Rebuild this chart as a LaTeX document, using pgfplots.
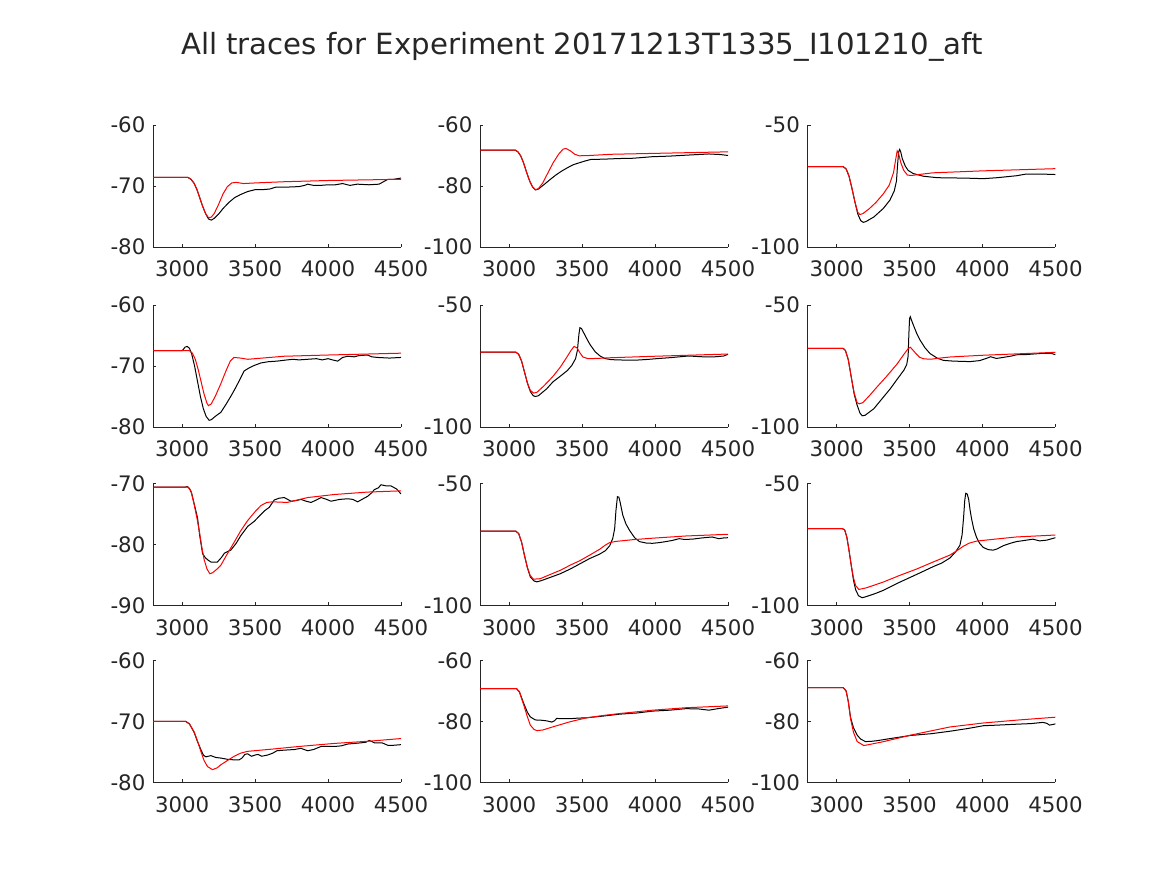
\documentclass[border=0pt]{standalone}
\usepackage{fontspec}
\setmainfont{DejaVu Sans}
\usepackage{pgfplots}
\pgfplotsset{compat=1.18}
\definecolor{axgray}{RGB}{38,38,38}
\pgfplotsset{
  sub/.style={
    scale only axis, width=186pt, height=91.5pt, anchor=south west,
    xmin=2800, xmax=4500, xtick={3000,3500,4000,4500},
    axis x line*=bottom, axis y line*=left, axis line style={-, axgray, line width=0.6pt},
    tick align=inside, major tick length=2.5pt, tick style={axgray, line width=0.6pt},
    ticklabel style={font=\fontsize{16}{16}\selectfont, text=axgray},
    xticklabel style={yshift=-7pt},
    yticklabel style={xshift=-2.2pt},
    scaled x ticks=false, scaled y ticks=false,
    /pgf/number format/assume math mode=true,
    /pgf/number format/1000 sep={},
  },
  blk/.style={black, line width=0.75pt, no marks},
  rd/.style={red, line width=0.75pt, no marks},
}
\begin{document}
\begin{tikzpicture}
\path (0,0) rectangle (875.25pt,656.25pt);
\node[anchor=base, font=\fontsize{21.9}{22}\selectfont, text=axgray] at (436.5pt,615pt) {All traces for Experiment 20171213T1335\_I101210\_aft};

% Row 1
\begin{axis}[sub, at={(114.75pt,471pt)}, ymin=-80, ymax=-60, ytick={-80,-70,-60}]
\addplot[blk] coordinates {(2800,-68.6)(3040,-68.6)(3060,-68.9)(3080,-69.5)(3100,-70.5)(3120,-71.9)(3140,-73.3)(3160,-74.5)(3180,-75.4)(3200,-75.6)(3220,-75.3)(3250,-74.6)(3280,-73.7)(3320,-72.7)(3360,-71.9)(3400,-71.4)(3450,-70.9)(3500,-70.6)(3550,-70.6)(3600,-70.5)(3640,-70.2)(3700,-70.2)(3800,-70.1)(3840,-69.9)(3860,-69.7)(3900,-69.9)(3950,-69.9)(4000,-69.8)(4050,-69.8)(4100,-69.6)(4150,-69.9)(4200,-69.7)(4280,-69.8)(4350,-69.7)(4380,-69.3)(4410,-68.9)(4450,-68.9)(4500,-68.7)};
\addplot[rd] coordinates {(2800,-68.6)(3040,-68.6)(3060,-68.9)(3080,-69.5)(3100,-70.5)(3120,-71.9)(3140,-73.3)(3160,-74.5)(3180,-75.2)(3200,-75.1)(3220,-74.5)(3250,-73.0)(3280,-71.3)(3310,-70.1)(3340,-69.5)(3370,-69.4)(3420,-69.6)(3500,-69.5)(3700,-69.3)(4000,-69.1)(4500,-68.9)};
\end{axis}
\begin{axis}[sub, at={(360pt,471pt)}, ymin=-100, ymax=-60, ytick={-100,-80,-60}]
\addplot[blk] coordinates {(2800,-68.2)(3040,-68.2)(3060,-68.8)(3080,-70.2)(3100,-72.6)(3120,-75.6)(3140,-78.3)(3160,-80.3)(3180,-81.3)(3200,-81.0)(3240,-79.5)(3280,-77.9)(3320,-76.4)(3360,-75.1)(3400,-74.0)(3440,-73.0)(3480,-72.4)(3520,-71.8)(3560,-71.3)(3650,-71.2)(3750,-71.0)(3850,-70.9)(3980,-70.4)(4100,-70.2)(4210,-69.9)(4370,-69.5)(4450,-69.7)(4500,-70.0)};
\addplot[rd] coordinates {(2800,-68.2)(3040,-68.2)(3060,-68.8)(3080,-70.2)(3100,-72.6)(3120,-75.6)(3140,-78.3)(3160,-80.3)(3180,-81.2)(3200,-80.9)(3230,-79.0)(3260,-76.2)(3300,-72.5)(3340,-69.5)(3370,-67.9)(3390,-67.7)(3420,-68.5)(3450,-69.6)(3480,-70.1)(3550,-70.0)(3700,-69.6)(4000,-69.3)(4500,-68.8)};
\end{axis}
\begin{axis}[sub, at={(605.6pt,471pt)}, ymin=-100, ymax=-50, ytick={-100,-50}]
\addplot[blk] coordinates {(2800,-67.1)(3045,-67.1)(3065,-68.0)(3085,-71.0)(3105,-76.0)(3125,-81.5)(3145,-86.5)(3165,-89.2)(3182,-89.9)(3200,-89.6)(3255,-87.7)(3320,-84.2)(3365,-80.8)(3395,-77.0)(3410,-73.0)(3418,-66.0)(3425,-61.0)(3432,-60.0)(3440,-61.2)(3450,-63.8)(3470,-66.8)(3490,-68.6)(3525,-69.9)(3595,-71.0)(3690,-71.6)(3800,-71.7)(3900,-71.8)(4005,-72.0)(4100,-71.6)(4232,-70.8)(4300,-70.1)(4400,-70.1)(4500,-70.3)};
\addplot[rd] coordinates {(2800,-67.1)(3045,-67.1)(3065,-68.0)(3085,-71.0)(3105,-76.0)(3125,-81.5)(3145,-85.8)(3160,-86.7)(3180,-86.3)(3220,-84.5)(3270,-81.7)(3320,-78.2)(3360,-74.7)(3390,-69.5)(3405,-64.0)(3415,-60.6)(3425,-61.8)(3440,-65.5)(3460,-68.6)(3485,-70.5)(3510,-70.7)(3550,-70.4)(3660,-69.6)(4000,-68.8)(4500,-67.9)};
\end{axis}

% Row 2
\begin{axis}[sub, at={(114.75pt,336pt)}, ymin=-80, ymax=-60, ytick={-80,-70,-60}]
\addplot[blk] coordinates {(2800,-67.5)(3000,-67.5)(3020,-66.9)(3035,-66.8)(3050,-67.1)(3065,-68.0)(3085,-70.0)(3105,-72.5)(3125,-75.0)(3145,-77.0)(3165,-78.3)(3185,-78.9)(3200,-78.8)(3230,-78.2)(3265,-77.6)(3300,-76.3)(3340,-74.7)(3370,-73.4)(3400,-72.0)(3425,-70.8)(3460,-70.3)(3495,-69.9)(3540,-69.5)(3590,-69.3)(3650,-69.2)(3720,-69.0)(3760,-68.9)(3800,-69.0)(3860,-68.9)(3920,-68.8)(3960,-69.0)(4000,-68.8)(4030,-69.0)(4066,-69.2)(4100,-68.6)(4135,-68.4)(4180,-68.5)(4210,-68.3)(4270,-68.2)(4300,-68.5)(4340,-68.6)(4420,-68.7)(4500,-68.6)};
\addplot[rd] coordinates {(2800,-67.5)(3050,-67.5)(3070,-67.9)(3090,-68.9)(3110,-70.6)(3130,-72.6)(3150,-74.6)(3170,-76.1)(3180,-76.5)(3200,-76.2)(3230,-74.8)(3265,-72.9)(3300,-70.8)(3330,-69.2)(3355,-68.6)(3400,-68.7)(3450,-68.9)(3550,-68.7)(3700,-68.4)(4000,-68.2)(4500,-67.9)};
\end{axis}
\begin{axis}[sub, at={(360pt,336pt)}, ymin=-100, ymax=-50, ytick={-100,-50}]
\addplot[blk] coordinates {(2800,-69.3)(3045,-69.3)(3065,-70.2)(3085,-73.0)(3105,-77.5)(3125,-82.0)(3145,-85.5)(3165,-87.2)(3180,-87.5)(3200,-87.2)(3258,-84.3)(3300,-81.5)(3350,-79.2)(3400,-76.8)(3430,-74.7)(3455,-72.0)(3468,-68.5)(3478,-62.0)(3485,-59.3)(3495,-59.6)(3510,-61.3)(3530,-63.6)(3555,-66.3)(3590,-69.2)(3625,-71.0)(3660,-72.0)(3700,-72.4)(3800,-72.6)(3870,-72.6)(3950,-72.3)(4030,-71.9)(4100,-71.6)(4210,-71.0)(4260,-71.0)(4346,-71.3)(4420,-71.2)(4470,-70.9)(4500,-70.2)};
\addplot[rd] coordinates {(2800,-69.3)(3045,-69.3)(3065,-70.2)(3085,-73.0)(3105,-77.5)(3125,-82.0)(3145,-85.0)(3168,-86.1)(3190,-85.8)(3230,-83.6)(3270,-81.2)(3305,-78.9)(3350,-75.5)(3395,-71.4)(3425,-68.5)(3445,-67.0)(3465,-67.6)(3485,-69.6)(3505,-71.3)(3540,-72.0)(3600,-71.9)(3700,-71.6)(4000,-71.0)(4500,-70.1)};
\end{axis}
\begin{axis}[sub, at={(605.6pt,336pt)}, ymin=-100, ymax=-50, ytick={-100,-50}]
\addplot[blk] coordinates {(2800,-67.8)(3045,-67.8)(3060,-68.6)(3080,-72.5)(3100,-79.5)(3120,-86.5)(3140,-91.0)(3160,-94.3)(3175,-95.4)(3195,-95.2)(3255,-92.5)(3310,-88.5)(3368,-84.3)(3420,-80.0)(3460,-76.8)(3480,-74.5)(3490,-71.0)(3495,-62.0)(3500,-55.5)(3505,-54.8)(3515,-56.5)(3527,-58.4)(3550,-61.8)(3573,-64.5)(3605,-67.5)(3640,-69.9)(3690,-71.8)(3732,-72.7)(3800,-73.0)(3914,-73.2)(3980,-72.8)(4030,-71.8)(4055,-71.2)(4095,-71.9)(4140,-71.5)(4200,-70.9)(4232,-70.4)(4300,-70.3)(4414,-69.8)(4470,-69.8)(4500,-70.4)};
\addplot[rd] coordinates {(2800,-67.8)(3045,-67.8)(3060,-68.6)(3080,-72.5)(3100,-79.5)(3120,-86.0)(3140,-90.0)(3155,-90.5)(3180,-90.0)(3230,-86.8)(3275,-83.7)(3340,-79.4)(3414,-74.2)(3460,-70.3)(3490,-67.9)(3505,-67.3)(3520,-68.3)(3545,-70.0)(3570,-71.5)(3600,-72.1)(3650,-72.2)(3700,-71.8)(3780,-71.3)(4000,-70.6)(4500,-69.4)};
\end{axis}

% Row 3
\begin{axis}[sub, at={(114.75pt,202.1pt)}, ymin=-90, ymax=-70, ytick={-90,-80,-70}]
\addplot[blk] coordinates {(2800,-70.6)(3020,-70.6)(3035,-70.5)(3050,-70.8)(3065,-71.6)(3085,-73.6)(3105,-75.6)(3120,-78.5)(3140,-81.5)(3160,-82.2)(3180,-82.6)(3200,-82.9)(3240,-82.9)(3270,-82.1)(3290,-81.4)(3334,-80.9)(3370,-79.8)(3403,-78.5)(3450,-77.0)(3494,-76.2)(3530,-75.3)(3563,-74.5)(3597,-73.9)(3631,-72.7)(3665,-72.4)(3700,-72.3)(3746,-72.9)(3780,-72.8)(3814,-72.6)(3850,-72.9)(3883,-73.1)(3920,-72.7)(3952,-72.3)(3990,-72.6)(4020,-72.9)(4080,-72.6)(4135,-72.5)(4170,-72.6)(4203,-73.0)(4240,-72.5)(4271,-72.1)(4300,-71.5)(4317,-71.0)(4345,-70.7)(4363,-70.2)(4400,-70.4)(4432,-70.4)(4470,-70.9)(4500,-71.7)};
\addplot[rd] coordinates {(2800,-70.6)(3040,-70.6)(3060,-71.2)(3082,-73.4)(3100,-75.5)(3117,-77.7)(3135,-80.5)(3151,-82.5)(3170,-84.0)(3190,-84.8)(3210,-84.6)(3240,-84.0)(3265,-83.4)(3310,-81.5)(3357,-79.6)(3400,-77.8)(3448,-76.1)(3500,-74.6)(3540,-73.6)(3580,-73.1)(3620,-73.0)(3720,-73.1)(3860,-72.3)(4043,-71.8)(4271,-71.4)(4500,-71.2)};
\end{axis}
\begin{axis}[sub, at={(360pt,202.1pt)}, ymin=-100, ymax=-50, ytick={-100,-50}]
\addplot[blk] coordinates {(2800,-69.5)(3045,-69.5)(3065,-70.5)(3085,-74.0)(3105,-79.5)(3125,-84.5)(3145,-88.3)(3170,-89.9)(3190,-90.3)(3220,-89.8)(3280,-88.5)(3349,-87.0)(3420,-85.0)(3485,-82.9)(3550,-80.8)(3621,-78.9)(3660,-77.5)(3689,-75.5)(3710,-72.5)(3723,-68.5)(3732,-61.0)(3742,-55.4)(3752,-55.6)(3760,-57.5)(3779,-63.0)(3800,-66.5)(3825,-69.2)(3860,-72.2)(3893,-73.8)(3940,-74.4)(3983,-74.5)(4030,-74.2)(4074,-73.8)(4120,-73.3)(4165,-72.6)(4200,-72.9)(4255,-72.8)(4320,-72.3)(4391,-71.9)(4437,-72.6)(4470,-72.3)(4500,-72.2)};
\addplot[rd] coordinates {(2800,-69.5)(3045,-69.5)(3065,-70.5)(3085,-74.0)(3105,-79.5)(3125,-84.5)(3145,-87.8)(3168,-89.2)(3213,-89.0)(3280,-87.3)(3349,-85.6)(3420,-83.4)(3485,-81.6)(3550,-79.4)(3621,-76.9)(3660,-75.2)(3689,-74.2)(3734,-73.7)(3850,-73.0)(3983,-72.4)(4210,-71.5)(4500,-70.8)};
\end{axis}
\begin{axis}[sub, at={(605.6pt,202.1pt)}, ymin=-100, ymax=-50, ytick={-100,-50}]
\addplot[blk] coordinates {(2800,-68.5)(3040,-68.5)(3055,-69.0)(3070,-72.0)(3085,-77.5)(3100,-83.5)(3115,-89.5)(3130,-93.5)(3150,-96.0)(3175,-96.8)(3200,-96.4)(3260,-95.2)(3323,-93.7)(3430,-90.5)(3550,-87.2)(3664,-84.0)(3720,-82.6)(3777,-80.5)(3815,-78.0)(3845,-75.3)(3860,-71.0)(3870,-64.0)(3878,-57.0)(3885,-54.0)(3895,-54.3)(3905,-56.5)(3915,-61.0)(3925,-64.5)(3940,-68.7)(3959,-72.1)(3980,-74.5)(4005,-76.2)(4040,-77.1)(4073,-77.3)(4100,-76.8)(4141,-75.5)(4190,-74.5)(4232,-73.8)(4290,-73.3)(4345,-72.8)(4391,-73.5)(4440,-73.2)(4500,-72.2)};
\addplot[rd] coordinates {(2800,-68.5)(3040,-68.5)(3055,-69.0)(3070,-72.0)(3085,-77.5)(3100,-83.5)(3115,-88.5)(3130,-91.8)(3152,-93.4)(3200,-92.8)(3260,-91.6)(3323,-90.3)(3430,-87.7)(3550,-85.0)(3660,-82.2)(3777,-79.3)(3830,-77.3)(3868,-75.7)(3910,-74.4)(3959,-73.6)(4100,-72.7)(4232,-71.9)(4500,-71.1)};
\end{axis}

% Row 4
\begin{axis}[sub, at={(114.75pt,69.4pt)}, ymin=-80, ymax=-60, ytick={-80,-70,-60}]
\addplot[blk] coordinates {(2800,-70.0)(3025,-70.0)(3050,-70.4)(3082,-71.8)(3105,-73.3)(3128,-74.6)(3145,-75.5)(3162,-75.8)(3197,-75.6)(3230,-75.9)(3265,-76.0)(3310,-76.2)(3357,-76.3)(3390,-76.3)(3410,-76.0)(3430,-75.4)(3448,-75.3)(3475,-75.7)(3500,-75.5)(3520,-75.4)(3545,-75.7)(3586,-75.5)(3620,-75.2)(3650,-74.8)(3700,-74.7)(3769,-74.6)(3814,-74.4)(3860,-74.8)(3900,-74.6)(3952,-74.1)(4043,-74.1)(4090,-74.0)(4135,-73.7)(4226,-73.5)(4260,-73.4)(4283,-73.1)(4300,-73.3)(4317,-73.5)(4370,-73.5)(4409,-73.9)(4450,-73.9)(4500,-73.8)};
\addplot[rd] coordinates {(2800,-70.0)(3025,-70.0)(3050,-70.4)(3082,-71.7)(3105,-73.2)(3128,-74.9)(3150,-76.4)(3174,-77.4)(3208,-77.9)(3240,-77.6)(3265,-77.1)(3310,-76.4)(3357,-75.7)(3400,-75.2)(3448,-74.9)(3586,-74.6)(3800,-74.1)(4043,-73.6)(4300,-73.2)(4500,-72.8)};
\end{axis}
\begin{axis}[sub, at={(360pt,69.4pt)}, ymin=-100, ymax=-60, ytick={-100,-80,-60}]
\addplot[blk] coordinates {(2800,-69.2)(3050,-69.2)(3070,-70.3)(3100,-74.1)(3125,-77.0)(3145,-78.5)(3179,-79.5)(3220,-79.6)(3258,-79.8)(3292,-80.2)(3310,-79.8)(3326,-79.0)(3370,-79.1)(3417,-79.1)(3470,-78.9)(3530,-78.8)(3650,-78.2)(3757,-77.6)(3880,-77.2)(3983,-76.6)(4100,-76.3)(4210,-75.8)(4300,-75.9)(4369,-76.3)(4430,-75.8)(4500,-75.3)};
\addplot[rd] coordinates {(2800,-69.2)(3050,-69.2)(3070,-70.3)(3100,-74.6)(3125,-78.5)(3145,-81.2)(3170,-82.6)(3190,-83.0)(3230,-82.8)(3304,-81.7)(3417,-80.1)(3530,-78.8)(3650,-78.0)(3757,-77.4)(3983,-76.3)(4210,-75.5)(4500,-74.9)};
\end{axis}
\begin{axis}[sub, at={(605.6pt,69.4pt)}, ymin=-100, ymax=-60, ytick={-100,-80,-60}]
\addplot[blk] coordinates {(2800,-68.9)(3045,-68.9)(3065,-70.0)(3080,-73.5)(3095,-78.6)(3115,-82.0)(3141,-84.5)(3165,-85.8)(3198,-86.6)(3240,-86.5)(3277,-86.3)(3368,-85.6)(3505,-84.6)(3650,-84.0)(3777,-83.2)(3900,-82.3)(4005,-81.4)(4100,-81.2)(4232,-80.9)(4330,-80.7)(4414,-80.3)(4440,-80.6)(4459,-81.2)(4500,-80.8)};
\addplot[rd] coordinates {(2800,-68.9)(3045,-68.9)(3065,-70.0)(3080,-73.5)(3095,-79.0)(3115,-83.5)(3141,-86.6)(3186,-87.9)(3230,-87.5)(3323,-86.6)(3505,-84.5)(3777,-81.8)(4005,-80.5)(4250,-79.5)(4500,-78.6)};
\end{axis}
\end{tikzpicture}
\end{document}
